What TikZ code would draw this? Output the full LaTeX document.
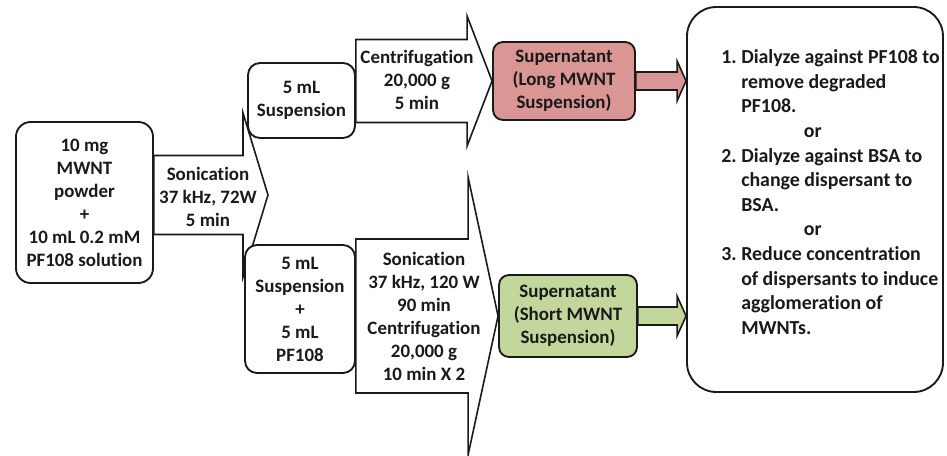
\documentclass[tikz,border=0pt]{standalone}
\usepackage{fontspec}
\setmainfont{Carlito}[Ligatures=NoCommon]
\usepackage{xcolor}
\usepackage{tikz}
\usetikzlibrary{calc,backgrounds}
\definecolor{ink}{HTML}{1A1A1A}
\definecolor{longFill}{HTML}{D99694}
\definecolor{shortFill}{HTML}{C3D69B}
\newcommand{\px}{0.75pt}
\tikzset{
  flowBox/.style={draw=ink, line width=1.4pt, fill=white, rounded corners=9pt, inner sep=0pt},
  flowArrow/.style={draw=ink, line width=1.2pt, fill=white},
  flowText/.style={text=ink, align=center, font=\bfseries\fontsize{14.2}{17.25}\selectfont},
  listText/.style={text=ink, align=left, font=\bfseries\fontsize{14.9}{18.45}\selectfont}
}
\newcommand{\blockArrow}[6][]{%
  \draw[flowArrow,#1] ($(#2 |- #3)+(0,#4)$) -- ($(#3)+(-#5,#4)$) -- ($(#3)+(-#5,#6)$)
    -- (#3) -- ($(#3)+(-#5,-#6)$) -- ($(#3)+(-#5,-#4)$) -- ($(#2 |- #3)+(0,-#4)$) -- cycle;}

\begin{document}
\begin{tikzpicture}[x=0.75pt, y=-0.75pt]
  \useasboundingbox (0,0) rectangle (947,456);

  \node[flowBox, flowText, rounded corners=11pt, minimum width=137*\px, minimum height=161*\px]
    (powder) at (84.5,202.5) {10 mg\\MWNT\\powder\\+\\10 mL 0.2 mM\\PF108 solution};
  \node[flowBox, flowText, minimum width=107*\px, minimum height=75*\px]
    (susp) at (301.5,100.5) {5 mL\\Suspension};
  \node[flowBox, flowText, minimum width=110*\px, minimum height=128*\px]
    (mixed) at (300,309) {5 mL\\Suspension\\+\\5 mL\\PF108};
  \node[flowBox, flowText, fill=longFill, rounded corners=7.5pt, minimum width=142*\px, minimum height=78*\px]
    (longSup) at (564,81) {Supernatant\\(Long MWNT\\Suspension)};
  \node[flowBox, flowText, fill=shortFill, rounded corners=7.5pt, minimum width=138*\px, minimum height=82*\px]
    (shortSup) at (568,316) {Supernatant\\(Short MWNT\\Suspension)};
  \node[flowBox, rounded corners=22pt, minimum width=256*\px, minimum height=385*\px]
    (treat) at (815,199.5) {};

  \coordinate (split) at (268,195);
  \coordinate (longIn) at (treat.west |- longSup.east);
  \coordinate (shortIn) at (treat.west |- shortSup.east);

  \begin{scope}[on background layer]
    \blockArrow{powder.east}{split}{39.5}{25}{82}
    \blockArrow{susp.east}{longSup.west}{41.5}{25}{65}
    \blockArrow{mixed.east}{shortSup.west}{77}{30}{139}
    \blockArrow[fill=longFill]{longSup.east}{longIn}{9}{9}{20}
    \blockArrow[fill=shortFill]{shortSup.east}{shortIn}{9}{9}{20}
  \end{scope}

  \node[flowText] (sonicA) at (208,197) {Sonication\\37 kHz, 72W\\5 min};
  \node[flowText] (centA) at (417,80) {Centrifugation\\20,000 g\\5 min};
  \node[flowText] (sonicB) at (424,316.5) {Sonication\\37 kHz, 120 W\\90 min\\Centrifugation\\20,000 g\\10 min X 2};

  \node[listText, anchor=west, inner sep=0pt] (treatList) at (721,194) {%
    \begin{tabular}{@{}p{15pt}@{}l@{}}
    1. & Dialyze against PF108 to\\
       & remove degraded\\
       & PF108.\\
    \multicolumn{2}{@{}l@{}}{\hspace{62pt}or}\\
    2. & Dialyze against BSA to\\
       & change dispersant to\\
       & BSA.\\
    \multicolumn{2}{@{}l@{}}{\hspace{62pt}or}\\
    3. & Reduce concentration\\
       & of dispersants to induce\\
       & agglomeration of\\
       & MWNTs.
    \end{tabular}};
\end{tikzpicture}
\end{document}
